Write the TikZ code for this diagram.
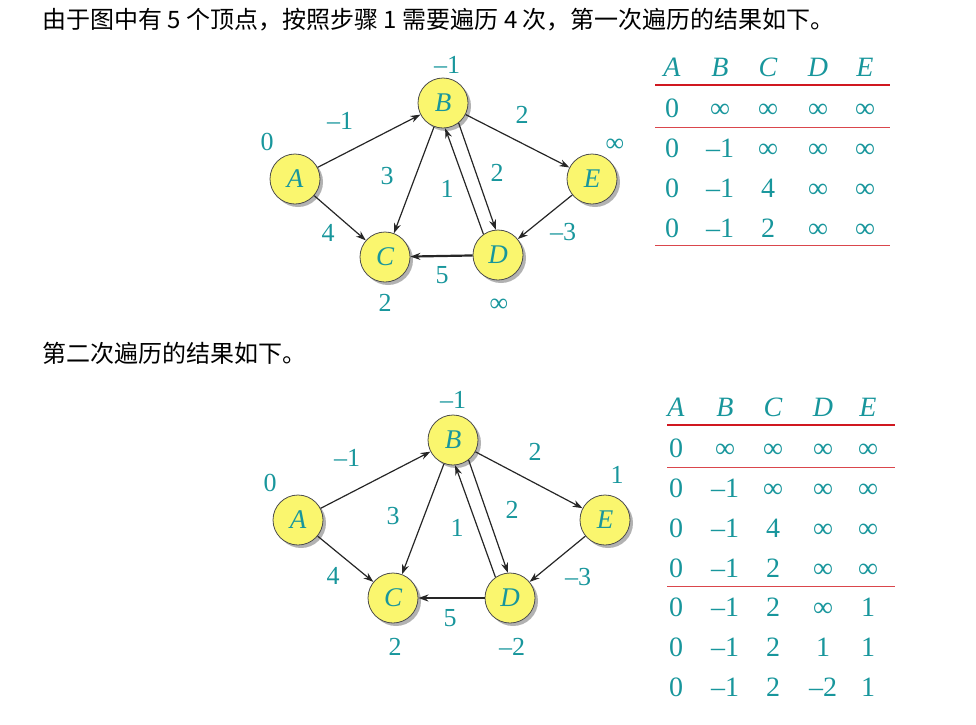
\documentclass[tikz,border=0pt]{standalone}
\usepackage{fontspec}
\setmainfont{Liberation Serif}
\newfontfamily\cjk{Noto Sans CJK SC}
\usetikzlibrary{arrows.meta,shadows}
\definecolor{distcol}{RGB}{24,150,156}
\definecolor{rulecol}{RGB}{208,24,32}
\definecolor{vertexfill}{RGB}{250,246,110}
\newcommand{\infsym}{∞}
\tikzset{
  vertex/.style={circle,draw=black!70,line width=0.8pt,fill=vertexfill,
    minimum size=50pt,inner sep=0pt,text=distcol,
    font=\fontsize{27}{27}\selectfont\itshape,
    drop shadow={shadow xshift=3pt,shadow yshift=-3pt,fill=black!60}},
  arc/.style={-{Stealth[length=10pt,width=7pt]},line width=1.2pt,black!85},
  dist/.style={text=distcol,font=\fontsize{26}{26}\selectfont,
    text height=18pt,text depth=0pt},
  cell/.style={text=distcol,font=\fontsize{28}{28}\selectfont,
    text height=19pt,text depth=0pt},
  head/.style={cell,font=\fontsize{28}{28}\selectfont\itshape},
  note/.style={anchor=west,font=\cjk\fontsize{24}{24}\selectfont},
}
\begin{document}
\begin{tikzpicture}[x=1pt,y=-1pt]
\useasboundingbox (0,0) rectangle (976,724);
\node[note] (intro) at (39,20) {由于图中有 5 个顶点，按照步骤 1 需要遍历 4 次，第一次遍历的结果如下。};
\node[note] (second) at (39,353) {第二次遍历的结果如下。};

% first pass
\node[vertex] (A1) at (295,179) {A};
\node[vertex] (B1) at (443,103) {B};
\node[vertex] (C1) at (385,257) {C};
\node[vertex] (D1) at (498,255) {D};
\node[vertex] (E1) at (592,179) {E};
\draw[arc] (A1) -- (B1);
\draw[arc] (A1) -- (C1);
\draw[arc] (B1) -- (C1);
\draw[arc] (B1) -- (E1);
\draw[arc] (B1.-52) -- (D1.95);
\draw[arc] (D1.125) -- (B1.-85);
\draw[arc] (E1) -- (D1);
\draw[arc,line width=2.2pt] (D1) -- (C1);
\node[dist] (wab1) at (340,120) {–1};
\node[dist] (wbe1) at (522,114) {2};
\node[dist] (wbc1) at (387,175) {3};
\node[dist] (wdb1) at (447,188) {1};
\node[dist] (wbd1) at (497,172) {2};
\node[dist] (wac1) at (328,232) {4};
\node[dist] (wed1) at (563,231) {–3};
\node[dist] (wdc1) at (442,274) {5};
\node[dist] (dA1) at (267,141) {0};
\node[dist] (dB1) at (447,64) {–1};
\node[dist] (dC1) at (385,302) {2};
\node[dist] (dD1) at (499,302) {\infsym};
\node[dist] (dE1) at (615,142) {\infsym};

% table after pass 1
\foreach \n/\x in {A/672,B/720,C/768,D/818,E/865}
  \node[head] (h1\n) at (\x,67) {\n};
\draw[rulecol,line width=2.5pt] (655,85) -- (890,85);
\draw[rulecol!80,line width=1pt] (655,127) -- (890,127);
\draw[rulecol!80,line width=1pt] (655,245) -- (890,245);
\foreach \y/\a/\b/\c/\d/\e [count=\r] in {108/0/\infsym/\infsym/\infsym/\infsym,
    148/0/–1/\infsym/\infsym/\infsym,188/0/–1/4/\infsym/\infsym,
    228/0/–1/2/\infsym/\infsym} {
  \node[cell] (p1r\r a) at (672,\y) {\a};
  \node[cell] (p1r\r b) at (720,\y) {\b};
  \node[cell] (p1r\r c) at (768,\y) {\c};
  \node[cell] (p1r\r d) at (818,\y) {\d};
  \node[cell] (p1r\r e) at (865,\y) {\e};
}

% second pass
\node[vertex] (A2) at (298,520) {A};
\node[vertex] (B2) at (453,440) {B};
\node[vertex] (C2) at (393,598) {C};
\node[vertex] (D2) at (510,598) {D};
\node[vertex] (E2) at (605,520) {E};
\draw[arc] (A2) -- (B2);
\draw[arc] (A2) -- (C2);
\draw[arc] (B2) -- (C2);
\draw[arc] (B2) -- (E2);
\draw[arc] (B2.-52) -- (D2.95);
\draw[arc] (D2.125) -- (B2.-85);
\draw[arc] (E2) -- (D2);
\draw[arc,line width=2.2pt] (D2) -- (C2);
\node[dist] (wab2) at (347,457) {–1};
\node[dist] (wbe2) at (535,451) {2};
\node[dist] (wbc2) at (393,515) {3};
\node[dist] (wdb2) at (457,527) {1};
\node[dist] (wbd2) at (512,509) {2};
\node[dist] (wac2) at (333,575) {4};
\node[dist] (wed2) at (578,576) {–3};
\node[dist] (wdc2) at (450,617) {5};
\node[dist] (dA2) at (270,482) {0};
\node[dist] (dB2) at (453,399) {–1};
\node[dist] (dC2) at (395,646) {2};
\node[dist] (dD2) at (512,646) {–2};
\node[dist] (dE2) at (617,474) {1};

% table after pass 2
\foreach \n/\x in {A/676,B/725,C/773,D/823,E/868}
  \node[head] (h2\n) at (\x,407) {\n};
\draw[rulecol,line width=2.5pt] (667,425) -- (895,425);
\draw[rulecol!80,line width=1pt] (667,467) -- (895,467);
\draw[rulecol!80,line width=1pt] (667,586) -- (895,586);
\foreach \y/\a/\b/\c/\d/\e [count=\r] in {448/0/\infsym/\infsym/\infsym/\infsym,
    488/0/–1/\infsym/\infsym/\infsym,528/0/–1/4/\infsym/\infsym,
    568/0/–1/2/\infsym/\infsym,607/0/–1/2/\infsym/1,647/0/–1/2/1/1,
    687/0/–1/2/–2/1} {
  \node[cell] (p2r\r a) at (676,\y) {\a};
  \node[cell] (p2r\r b) at (725,\y) {\b};
  \node[cell] (p2r\r c) at (773,\y) {\c};
  \node[cell] (p2r\r d) at (823,\y) {\d};
  \node[cell] (p2r\r e) at (868,\y) {\e};
}
\end{tikzpicture}
\end{document}
